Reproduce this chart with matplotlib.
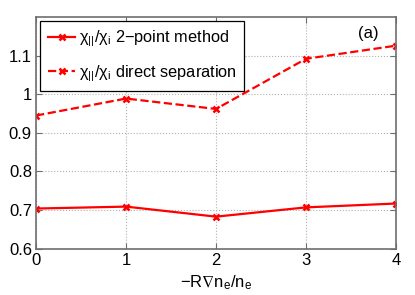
import numpy as np
import matplotlib
matplotlib.use('Agg')
import matplotlib.pyplot as plt

plt.rcParams['font.family'] = ['Liberation Sans', 'DejaVu Sans']
plt.rcParams['mathtext.fontset'] = 'custom'
plt.rcParams['mathtext.rm'] = 'Liberation Sans'
plt.rcParams['mathtext.it'] = 'Liberation Sans'
plt.rcParams['mathtext.default'] = 'regular'

# data
gradient = [0, 1, 2, 3, 4]
ratio_2point = [0.704, 0.709, 0.683, 0.707, 0.717]
ratio_direct = [0.945, 0.989, 0.962, 1.092, 1.126]
ytick_vals = [0.6, 0.7, 0.8, 0.9, 1.0, 1.1]
ytick_labels = ['0.6', '0.7', '0.8', '0.9', '1', '1.1']

fig = plt.figure(figsize=(4.15, 2.95), dpi=100)
ax = fig.add_axes([0.087, 0.157, 0.867, 0.785])

ax.plot(gradient, ratio_2point, '-', color='red', lw=1.6, marker='x', ms=5, mew=1.8,
        label=r'$\chi_{||}/\chi_{\rm i}$ 2$-$point method')
ax.plot(gradient, ratio_direct, '--', color='red', lw=1.6, marker='x', ms=5, mew=1.8,
        label=r'$\chi_{||}/\chi_{\rm i}$ direct separation')

ax.set_xlim(0, 4)
ax.set_ylim(0.6, 1.2)
ax.set_xticks(gradient)
ax.set_yticks(ytick_vals)
ax.set_yticklabels(ytick_labels)
ax.tick_params(direction='in', labelsize=12, length=4, colors='#6e6e6e', labelcolor='black',
               top=True, right=True, pad=3)
for s in ax.spines.values():
    s.set_color('#6e6e6e')
    s.set_linewidth(1.2)
ax.grid(True, linestyle=':', color='#b0b0b0', lw=0.8)

ax.set_xlabel(r'$-R\nabla n_e/n_e$', fontsize=12, labelpad=4)
ax.text(0.895, 0.93, '(a)', transform=ax.transAxes, fontsize=12, ha='left', va='center')

leg = ax.legend(loc='upper left', fontsize=11.8, fancybox=False, framealpha=1,
                edgecolor='black', borderaxespad=0.25, handlelength=1.7,
                handletextpad=0.2, labelspacing=0.85, borderpad=0.45)
leg.get_frame().set_linewidth(0.9)

fig.savefig('out.png', dpi=100)
